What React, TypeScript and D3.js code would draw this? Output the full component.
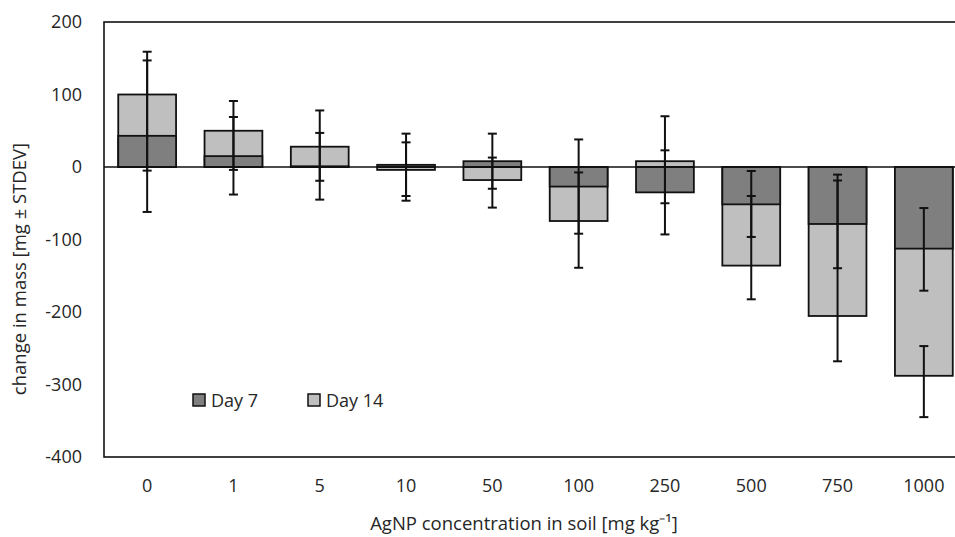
import * as d3 from "d3";

// AgNP concentration categories [mg kg-1]
const categories = ["0", "1", "5", "10", "50", "100", "250", "500", "750", "1000"];

// mean change in mass [mg]
const day7 = [43, 15, 1, 3, 8, -27, -35, -51.5, -78.6, -112.6];
const day14 = [100, 50, 28, -4, -18, -74.5, 8, -136, -205.5, -288];

// error bar extents (+ / -)
const day7Plus = [104, 54, 46, 43, 38, 65, 58, 46, 60, 56];
const day7Minus = [105, 53, 46, 43, 38, 65, 58, 45, 61, 58];
const day14Plus = [59, 41, 50, 38, 31, 67, 62, 96, 195, 41];
const day14Minus = [105, 54, 47, 42.5, 38, 64.5, 58, 46.5, 62.5, 57];

const yTicks = [200, 100, 0, -100, -200, -300, -400];

const W = 955;
const H = 537;
const plot = { left: 104, right: 967, top: 22, bottom: 457 };
const font = "'Open Sans', sans-serif";
const textColor = "#262626";

export default function App() {
  const x = d3
    .scaleBand()
    .domain(categories)
    .range([plot.left, plot.right])
    .paddingInner(0.33)
    .paddingOuter(0.165);
  const y = d3.scaleLinear().domain([-400, 200]).range([plot.bottom, plot.top]);

  const series = [
    { name: "Day 14", values: day14, plus: day14Plus, minus: day14Minus, fill: "#bfbfbf" },
    { name: "Day 7", values: day7, plus: day7Plus, minus: day7Minus, fill: "#7f7f7f" },
  ];
  const bw = x.bandwidth();
  const cap = 4.5;

  return (
    <svg
      width={W}
      height={H}
      style={{ position: "absolute", left: 0, top: 0, background: "#fff" }}
      fontFamily={font}
    >
      {/* bars: Day 14 underneath, Day 7 on top */}
      {series.map((s) => (
        <g key={s.name}>
          {s.values.map((v, i) => (
            <rect
              key={i}
              x={x(categories[i])}
              y={Math.min(y(v), y(0))}
              width={bw}
              height={Math.abs(y(v) - y(0))}
              fill={s.fill}
              stroke="#111"
              strokeWidth={1.8}
            />
          ))}
        </g>
      ))}

      {/* zero line */}
      <line x1={plot.left} x2={plot.right} y1={y(0)} y2={y(0)} stroke="#111" strokeWidth={1.6} />

      {/* error bars */}
      {series.map((s) => (
        <g key={s.name + "err"} stroke="#111" strokeWidth={2}>
          {s.values.map((v, i) => {
            const cx = (x(categories[i]) as number) + bw / 2;
            const hi = y(v + s.plus[i]);
            const lo = y(v - s.minus[i]);
            return (
              <g key={i}>
                <line x1={cx} x2={cx} y1={hi} y2={lo} />
                <line x1={cx - cap} x2={cx + cap} y1={hi} y2={hi} />
                <line x1={cx - cap} x2={cx + cap} y1={lo} y2={lo} />
              </g>
            );
          })}
        </g>
      ))}

      {/* frame */}
      <rect
        x={plot.left}
        y={plot.top}
        width={plot.right - plot.left}
        height={plot.bottom - plot.top}
        fill="none"
        stroke="#111"
        strokeWidth={1.6}
      />

      {/* y tick labels */}
      {yTicks.map((t) => (
        <text
          key={t}
          x={82}
          y={y(t)}
          dy="0.36em"
          textAnchor="end"
          fontSize={18}
          fill={textColor}
        >
          {t}
        </text>
      ))}

      {/* x tick labels */}
      {categories.map((c) => (
        <text
          key={c}
          x={(x(c) as number) + bw / 2}
          y={492}
          textAnchor="middle"
          fontSize={18}
          fill={textColor}
        >
          {c}
        </text>
      ))}

      {/* axis titles */}
      <text x={524} y={530} textAnchor="middle" fontSize={18.5} fill={textColor}>
        AgNP concentration in soil [mg kg⁻¹]
      </text>
      <text
        transform={`translate(26,269) rotate(-90)`}
        textAnchor="middle"
        fontSize={18.5}
        fill={textColor}
      >
        change in mass [mg ± STDEV]
      </text>

      {/* legend */}
      {[
        { name: "Day 7", fill: "#7f7f7f", x: 193 },
        { name: "Day 14", fill: "#bfbfbf", x: 308 },
      ].map((l) => (
        <g key={l.name}>
          <rect x={l.x} y={394} width={12} height={12} fill={l.fill} stroke="#111" strokeWidth={1.5} />
          <text x={l.x + 18} y={407} fontSize={18} fill={textColor}>
            {l.name}
          </text>
        </g>
      ))}
    </svg>
  );
}
